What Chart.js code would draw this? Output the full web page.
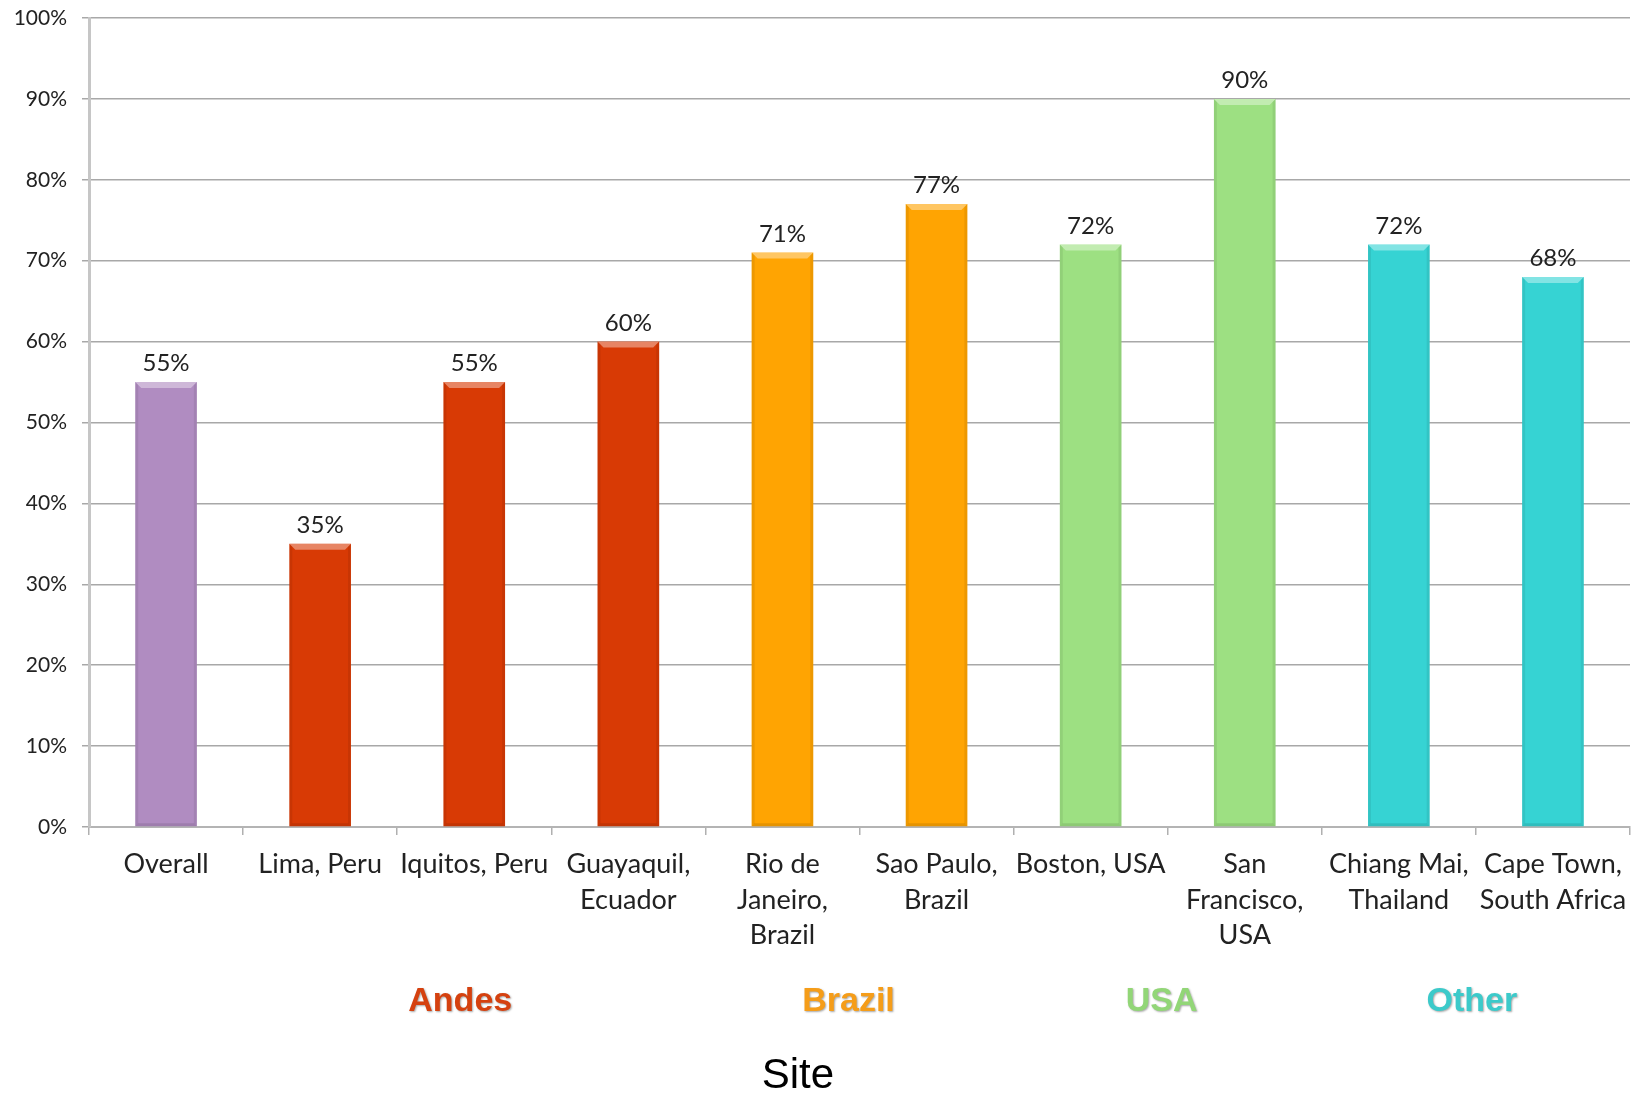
<!DOCTYPE html>
<html>
<head>
<meta charset="utf-8">
<script src="https://cdn.jsdelivr.net/npm/chart.js@4.4.1/dist/chart.umd.min.js"></script>
<style>
  html, body { margin: 0; padding: 0; background: #fff; }
  #wrap { width: 1644px; height: 1095px; position: relative; }
</style>
</head>
<body>
<div id="wrap"><canvas id="siteChart"></canvas></div>
<script>
// chart data
const siteLabels = [
    "Overall",
    "Lima, Peru",
    "Iquitos, Peru",
    ["Guayaquil,", "Ecuador"],
    ["Rio de", "Janeiro,", "Brazil"],
    ["Sao Paulo,", "Brazil"],
    "Boston, USA",
    ["San", "Francisco,", "USA"],
    ["Chiang Mai,", "Thailand"],
    ["Cape Town,", "South Africa"]
];
const siteValues = [55, 35, 55, 60, 71, 77, 72, 90, 72, 68];
const siteGroups = ["Overall", "Andes", "Andes", "Andes", "Brazil", "Brazil", "USA", "USA", "Other", "Other"];
const groupNames = ["Andes", "Brazil", "USA", "Other"];
const yTickValues = [0, 10, 20, 30, 40, 50, 60, 70, 80, 90, 100];
const axisTitle = "Site";

const barColors = {
    Overall: "#b08cc1",
    Andes: "#d83a05",
    Brazil: "#ffa402",
    USA: "#9de082",
    Other: "#36d3d3"
};
const groupTextColors = {
    Andes: "#d5410f",
    Brazil: "#f59d19",
    USA: "#92d677",
    Other: "#3ccaca"
};
// small nudges of the group names, as placed in the original
const groupShift = { Andes: -14, Brazil: -11, USA: -6, Other: -4 };

// bevel look of the bars: light top edge, darker sides
const bevelPlugin = {
    id: "bevel",
    afterDatasetsDraw(chart) {
        const ctx = chart.ctx;
        const b = 6;
        chart.getDatasetMeta(0).data.forEach(bar => {
            const { x, y, base, width } = bar.getProps(["x", "y", "base", "width"], true);
            const l = x - width / 2, r = x + width / 2;
            ctx.save();
            ctx.fillStyle = "rgba(255,255,255,0.38)";
            ctx.beginPath();
            ctx.moveTo(l, y); ctx.lineTo(r, y); ctx.lineTo(r - b, y + b); ctx.lineTo(l + b, y + b);
            ctx.closePath(); ctx.fill();
            ctx.fillStyle = "rgba(0,0,0,0.07)";
            ctx.beginPath();
            ctx.moveTo(l, y); ctx.lineTo(l + 3, y + 3); ctx.lineTo(l + 3, base - 3); ctx.lineTo(l, base);
            ctx.closePath(); ctx.fill();
            ctx.beginPath();
            ctx.moveTo(r, y); ctx.lineTo(r - 3, y + 3); ctx.lineTo(r - 3, base - 3); ctx.lineTo(r, base);
            ctx.closePath(); ctx.fill();
            ctx.fillStyle = "rgba(0,0,0,0.10)";
            ctx.beginPath();
            ctx.moveTo(l, base); ctx.lineTo(l + 3, base - 3); ctx.lineTo(r - 3, base - 3); ctx.lineTo(r, base);
            ctx.closePath(); ctx.fill();
            ctx.restore();
        });
    }
};

// value labels, group names under the axis and the axis title
const textPlugin = {
    id: "texts",
    afterDraw(chart) {
        const ctx = chart.ctx;
        const xs = chart.scales.x;
        const area = chart.chartArea;
        ctx.save();
        ctx.font = "24px Lato";
        ctx.fillStyle = "#222";
        ctx.textAlign = "center";
        ctx.textBaseline = "alphabetic";
        chart.getDatasetMeta(0).data.forEach((bar, i) => {
            ctx.fillText(siteValues[i] + "%", bar.x, bar.y - 11);
        });

        ctx.font = "bold 34px 'Liberation Sans', Arial";
        ctx.textBaseline = "middle";
        ctx.shadowColor = "rgba(0,0,0,0.35)";
        ctx.shadowBlur = 2;
        ctx.shadowOffsetX = 1;
        ctx.shadowOffsetY = 1;
        groupNames.forEach(g => {
            const idx = siteGroups.map((s, i) => s === g ? i : -1).filter(i => i >= 0);
            const px = idx.map(i => xs.getPixelForValue(i));
            const cx = (Math.min(...px) + Math.max(...px)) / 2 + groupShift[g];
            ctx.fillStyle = groupTextColors[g];
            ctx.fillText(g, cx, area.bottom + 175);
        });
        ctx.shadowColor = "transparent";

        ctx.font = "42px 'Liberation Sans', Arial";
        ctx.fillStyle = "#000";
        ctx.fillText(axisTitle, area.left + area.width * 0.46, area.bottom + 249);
        ctx.restore();
    }
};

document.addEventListener("DOMContentLoaded", () => {
    const ctx = document.getElementById("siteChart").getContext("2d");

    window.currentChart = new Chart(ctx, {
        type: "bar",
        data: {
            labels: siteLabels,
            datasets: [{
                data: siteValues,
                backgroundColor: siteGroups.map(g => barColors[g]),
                borderWidth: 0,
                categoryPercentage: 1,
                barPercentage: 0.4
            }]
        },
        options: {
            responsive: true,
            maintainAspectRatio: false,
            animation: false,
            layout: { padding: { top: 18, right: 14, left: 0, bottom: 0 } },
            plugins: {
                legend: { display: false },
                tooltip: { enabled: false }
            },
            scales: {
                x: {
                    grid: {
                        drawOnChartArea: false,
                        drawTicks: true,
                        tickLength: 8,
                        color: "#b0b0b0",
                        lineWidth: 1.5
                    },
                    border: { color: "#b4b4b4", width: 2 },
                    ticks: {
                        autoSkip: false,
                        maxRotation: 0,
                        minRotation: 0,
                        padding: 11,
                        color: "#222",
                        font: { family: "Lato", size: 27, lineHeight: 1.33 }
                    },
                    afterFit: scale => { scale.height = 268; }
                },
                y: {
                    min: 0,
                    max: 100,
                    afterBuildTicks: scale => { scale.ticks = yTickValues.map(v => ({ value: v })); },
                    grid: {
                        color: "#a8a8a8",
                        lineWidth: 1.5,
                        tickLength: 7
                    },
                    border: { color: "#c6c6c6", width: 3 },
                    ticks: {
                        padding: 15,
                        color: "#222",
                        font: { family: "Lato", size: 21 },
                        callback: v => v + "%"
                    },
                    afterFit: scale => { scale.width = 89; scale.paddingTop = 0; }
                }
            }
        },
        plugins: [bevelPlugin, textPlugin]
    });
});
</script>
</body>
</html>
